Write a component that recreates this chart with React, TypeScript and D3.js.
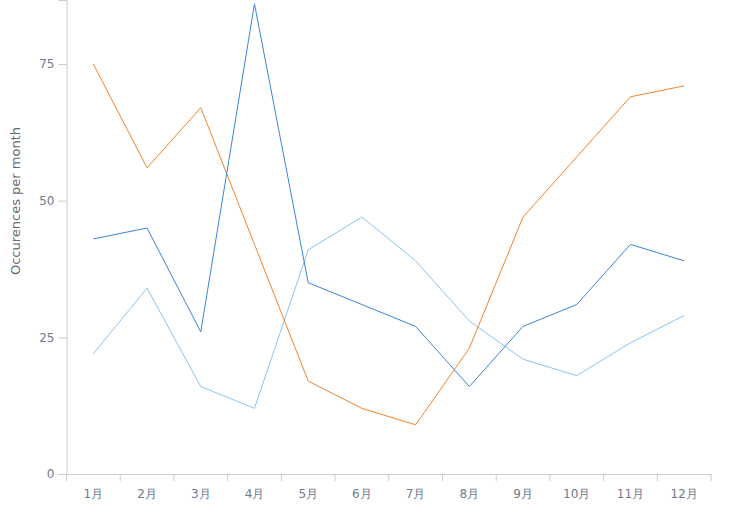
import { useEffect, useRef } from "react";
import * as d3 from "d3";

const months = ["1月", "2月", "3月", "4月", "5月", "6月", "7月", "8月", "9月", "10月", "11月", "12月"];
const seriesOrange = [75, 56, 67, 42, 17, 12, 9, 23, 47, 58, 69, 71];
const seriesBlue = [43, 45, 26, 86, 35, 31, 27, 16, 27, 31, 42, 39];
const seriesLightBlue = [22, 34, 16, 12, 41, 47, 39, 28, 21, 18, 24, 29];
const yTicks = [0, 25, 50, 75];

const App = () => {
  const ref = useRef<SVGSVGElement>(null);

  useEffect(() => {
    const svg = d3.select(ref.current);
    svg.selectAll("*").remove();

    const MARGIN = { TOP: 0, LEFT: 66.5, RIGHT: 19, BOTTOM: 43 };
    const WIDTH = 730, HEIGHT = 517;

    const x = d3.scaleBand().domain(months).range([MARGIN.LEFT, WIDTH - MARGIN.RIGHT]);
    const y = d3.scaleLinear().domain([0, 75 * 474 / 410]).range([474, 0]);

    const g = svg.append("g");

    const yAxis = g.append("g")
      .attr("transform", `translate(${MARGIN.LEFT},0)`)
      .call(d3.axisLeft(y).tickValues(yTicks).tickSize(8).tickPadding(4));
    yAxis.select(".domain").attr("stroke", "#ccc");
    yAxis.selectAll(".tick line").attr("stroke", "#ccc");
    yAxis.selectAll("text")
      .attr("fill", "#6f7a8a")
      .style("font-family", "DejaVu Sans, Verdana, sans-serif")
      .style("font-size", "12px");

    const xAxis = g.append("g")
      .attr("transform", `translate(0,474)`)
      .call(d3.axisBottom(x).tickSizeOuter(0).tickSize(0).tickPadding(15));
    xAxis.select(".domain").attr("stroke", "#ccc");
    xAxis.selectAll("text")
      .attr("fill", "#6f7a8a")
      .style("font-family", "DejaVu Sans, Verdana, sans-serif")
      .style("font-size", "12px");
    // ticks at band boundaries
    const bounds = months.map(m => x(m) as number).concat([WIDTH - MARGIN.RIGHT]);
    xAxis.selectAll(".bound")
      .data(bounds)
      .enter().append("line")
      .attr("x1", d => d).attr("x2", d => d)
      .attr("y1", 0).attr("y2", 7)
      .attr("stroke", "#ccc");

    g.append("text")
      .attr("transform", `translate(20,201) rotate(-90)`)
      .attr("text-anchor", "middle")
      .attr("fill", "#5f6b78")
      .style("font-family", "DejaVu Sans, Verdana, sans-serif")
      .style("font-size", "13px")
      .text("Occurences per month");

    const line = d3.line<number>()
      .x((_, i) => (x(months[i]) as number) + x.bandwidth() / 2)
      .y(d => y(d));

    const series = [
      { data: seriesLightBlue, color: "#8cc4f2" },
      { data: seriesOrange, color: "#f5842a" },
      { data: seriesBlue, color: "#3a86d8" },
    ];
    series.forEach(s => {
      g.append("path")
        .datum(s.data)
        .attr("fill", "none")
        .attr("stroke", s.color)
        .attr("stroke-width", 1)
        .attr("d", line);
    });
  }, []);

  return <svg ref={ref} width={730} height={517} style={{ position: "absolute", left: 0, top: 0 }} />;
};

export default App;
